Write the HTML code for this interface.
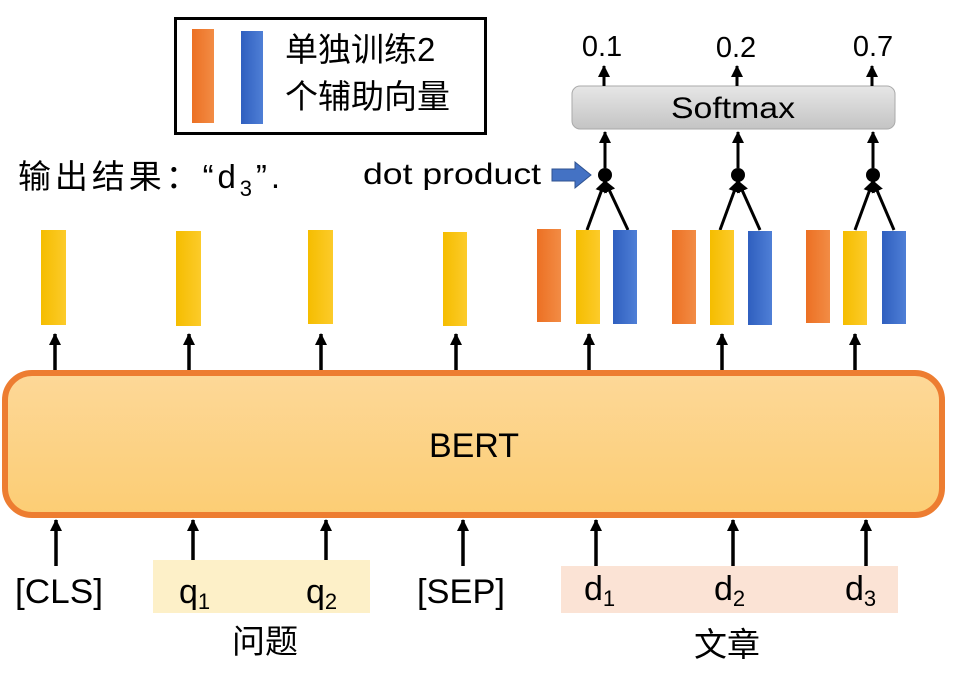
<!DOCTYPE html>
<html><head><meta charset="utf-8"><style>
html,body{margin:0;padding:0;background:#fff;width:957px;height:675px;overflow:hidden}
svg{display:block}
text{font-family:"Liberation Sans","Noto Sans CJK SC",sans-serif;fill:#000}
</style></head><body>
<svg width="957" height="675" viewBox="0 0 957 675" xmlns="http://www.w3.org/2000/svg">
<defs>
<linearGradient id="og" x1="0" x2="1"><stop offset="0" stop-color="#ec7023"/><stop offset="1" stop-color="#f28c45"/></linearGradient>
<linearGradient id="yg" x1="0" x2="1"><stop offset="0" stop-color="#f5bd00"/><stop offset="1" stop-color="#fccb2a"/></linearGradient>
<linearGradient id="bg" x1="0" x2="1"><stop offset="0" stop-color="#2f5fbf"/><stop offset="1" stop-color="#4f7fd6"/></linearGradient>
<linearGradient id="bert" x1="0" y1="0" x2="0" y2="1"><stop offset="0" stop-color="#fdd898"/><stop offset="1" stop-color="#fccd74"/></linearGradient>
<linearGradient id="sm" x1="0" y1="0" x2="0" y2="1"><stop offset="0" stop-color="#e6e6e6"/><stop offset="1" stop-color="#c4c4c4"/></linearGradient>
<marker id="as" markerWidth="12" markerHeight="12" refX="11" refY="6" orient="auto" markerUnits="userSpaceOnUse"><path d="M0,0 L12,6 L0,12 z" fill="#000"/></marker>
</defs>

<rect x="175.5" y="18.5" width="310" height="115" fill="#fff" stroke="#000" stroke-width="3"/>
<rect x="192" y="29" width="22" height="94" fill="url(#og)"/>
<rect x="241" y="31" width="22" height="93" fill="url(#bg)"/>
<text x="285" y="61" font-size="33">单独训练2</text>
<text x="285" y="108" font-size="33">个辅助向量</text>

<text x="18" y="188" font-size="33" textLength="262" lengthAdjust="spacing">输出结果：“d<tspan font-size="22" dy="8">3</tspan><tspan dy="-8">”.</tspan></text>

<text x="363" y="184" font-size="30" textLength="178" lengthAdjust="spacingAndGlyphs">dot product</text>
<path d="M552,169 L575,169 L575,162 L591,175 L575,188 L575,181 L552,181 z" fill="#4472c4" stroke="#2f528f" stroke-width="1"/>

<rect x="572" y="86" width="323" height="43" rx="8" fill="url(#sm)" stroke="#aaa" stroke-width="1"/>
<text x="733" y="118" font-size="30" text-anchor="middle" textLength="124" lengthAdjust="spacingAndGlyphs">Softmax</text>
<g stroke="#000" stroke-width="3">
<line x1="604" y1="86" x2="604" y2="66" marker-end="url(#as)"/>
<line x1="737" y1="86" x2="737" y2="66" marker-end="url(#as)"/>
<line x1="872" y1="86" x2="872" y2="66" marker-end="url(#as)"/>
<line x1="605" y1="168" x2="605" y2="132" marker-end="url(#as)"/>
<line x1="738" y1="168" x2="738" y2="132" marker-end="url(#as)"/>
<line x1="873" y1="168" x2="873" y2="132" marker-end="url(#as)"/>
<line x1="587" y1="230" x2="605" y2="181" marker-end="url(#as)"/>
<line x1="628" y1="230" x2="605" y2="181" marker-end="url(#as)"/>
<line x1="720" y1="230" x2="738" y2="181" marker-end="url(#as)"/>
<line x1="760" y1="230" x2="738" y2="181" marker-end="url(#as)"/>
<line x1="855" y1="230" x2="873" y2="181" marker-end="url(#as)"/>
<line x1="894" y1="230" x2="873" y2="181" marker-end="url(#as)"/>
</g>
<circle cx="605" cy="175" r="7"/><circle cx="738" cy="175" r="7"/><circle cx="873" cy="175" r="7"/>
<text x="602" y="56" font-size="29" text-anchor="middle">0.1</text>
<text x="736" y="57" font-size="29" text-anchor="middle">0.2</text>
<text x="873" y="56" font-size="29" text-anchor="middle">0.7</text>

<rect x="41" y="230" width="25" height="95" fill="url(#yg)"/>
<rect x="176" y="231" width="25" height="95" fill="url(#yg)"/>
<rect x="308" y="230" width="25" height="94" fill="url(#yg)"/>
<rect x="443" y="232" width="24" height="94" fill="url(#yg)"/>
<rect x="537" y="229" width="24" height="93" fill="url(#og)"/>
<rect x="576" y="230" width="24" height="94" fill="url(#yg)"/>
<rect x="613" y="230" width="24" height="94" fill="url(#bg)"/>
<rect x="672" y="230" width="24" height="94" fill="url(#og)"/>
<rect x="710" y="230" width="24" height="95" fill="url(#yg)"/>
<rect x="748" y="231" width="24" height="94" fill="url(#bg)"/>
<rect x="806" y="230" width="24" height="93" fill="url(#og)"/>
<rect x="843" y="231" width="24" height="94" fill="url(#yg)"/>
<rect x="882" y="231" width="24" height="93" fill="url(#bg)"/>

<rect x="5" y="373" width="937" height="142" rx="27" fill="url(#bert)" stroke="#ed7d31" stroke-width="6"/>
<text x="474" y="457" font-size="34" text-anchor="middle">BERT</text>

<g stroke="#000" stroke-width="3.5">
<line x1="55" y1="370" x2="55" y2="334" marker-end="url(#as)"/>
<line x1="189" y1="370" x2="189" y2="334" marker-end="url(#as)"/>
<line x1="321" y1="370" x2="321" y2="334" marker-end="url(#as)"/>
<line x1="456" y1="370" x2="456" y2="334" marker-end="url(#as)"/>
<line x1="589" y1="370" x2="589" y2="334" marker-end="url(#as)"/>
<line x1="722" y1="370" x2="722" y2="334" marker-end="url(#as)"/>
<line x1="855" y1="370" x2="855" y2="334" marker-end="url(#as)"/>
<line x1="56" y1="566" x2="56" y2="520" marker-end="url(#as)"/>
<line x1="193" y1="566" x2="193" y2="520" marker-end="url(#as)"/>
<line x1="326" y1="566" x2="326" y2="520" marker-end="url(#as)"/>
<line x1="463" y1="566" x2="463" y2="520" marker-end="url(#as)"/>
<line x1="596" y1="566" x2="596" y2="520" marker-end="url(#as)"/>
<line x1="733" y1="566" x2="733" y2="520" marker-end="url(#as)"/>
<line x1="866" y1="566" x2="866" y2="520" marker-end="url(#as)"/>
</g>

<rect x="153" y="560" width="217" height="53" fill="#fdf0c8"/>
<rect x="561" y="566" width="337" height="47" fill="#fbe3d5"/>
<text x="15" y="603" font-size="34" textLength="88" lengthAdjust="spacingAndGlyphs">[CLS]</text>
<text x="179" y="603" font-size="34">q<tspan font-size="22" dy="6">1</tspan></text>
<text x="306" y="603" font-size="34">q<tspan font-size="22" dy="6">2</tspan></text>
<text x="417" y="603" font-size="34" textLength="88" lengthAdjust="spacingAndGlyphs">[SEP]</text>
<text x="584" y="600" font-size="34">d<tspan font-size="22" dy="6">1</tspan></text>
<text x="714" y="600" font-size="34">d<tspan font-size="22" dy="6">2</tspan></text>
<text x="845" y="600" font-size="34">d<tspan font-size="22" dy="6">3</tspan></text>
<text x="265" y="653" font-size="33" text-anchor="middle">问题</text>
<text x="727" y="656" font-size="33" text-anchor="middle">文章</text>
</svg>
</body></html>
